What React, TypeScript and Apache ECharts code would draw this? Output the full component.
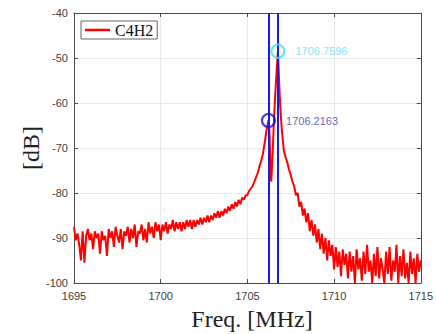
import React, { useEffect, useRef } from "react";
import * as echarts from "echarts";

// Left wing: 1695.0 .. 1705.9, step 0.1 MHz
const leftStart = 1695.0;
const leftDb = [
  -87.5, -90.5, -89.0, -91.5, -95.0, -88.5, -95.5, -89.5, -88.0, -90.5,
  -89.0, -92.5, -88.5, -90.0, -89.0, -93.5, -88.5, -90.5, -89.5, -94.0,
  -88.0, -90.0, -88.5, -92.0, -87.5, -89.5, -91.0, -88.0, -92.5, -88.5,
  -89.5, -87.5, -91.0, -88.0, -90.0, -87.0, -92.0, -88.5, -89.0, -87.0,
  -90.5, -88.0, -91.0, -86.5, -89.0, -87.5, -90.0, -86.5, -88.5, -87.0,
  -90.5, -87.0, -88.5, -86.5, -89.0, -87.0, -88.0, -86.0, -88.5, -86.5,
  -88.0, -86.5, -88.5, -86.5, -88.0, -86.0, -87.5, -86.0, -88.0, -86.0,
  -87.5, -86.0, -87.0, -85.5, -87.0, -85.5, -86.5, -85.0, -86.5, -85.0,
  -86.0, -84.5, -85.5, -84.0, -85.5, -84.0, -85.0, -83.5, -84.5, -83.0,
  -84.0, -82.5, -83.5, -82.0, -83.0, -81.5, -82.5, -81.0, -81.5, -80.5,
  -80.5, -79.5, -79.0, -78.5, -77.5, -76.5, -75.5, -74.0, -72.8, -71.2,
];

// Resonance region (explicit points)
const peakFreq = [
  1705.95, 1706.0, 1706.05, 1706.1, 1706.15, 1706.2163, 1706.26, 1706.3,
  1706.35, 1706.38, 1706.42, 1706.47, 1706.52, 1706.58, 1706.64, 1706.7,
  1706.7596, 1706.8, 1706.85, 1706.9, 1706.95, 1707.0, 1707.05,
];
const peakDb = [
  -70.0, -68.8, -67.5, -66.2, -65.0, -63.9, -65.5, -70.0,
  -76.5, -77.5, -74.0, -70.0, -65.0, -60.0, -56.0, -52.0,
  -48.7, -52.0, -57.0, -61.0, -64.0, -66.5, -68.5,
];

// Right wing: 1707.1 .. 1715.0, step 0.1 MHz
const rightStart = 1707.1;
const rightDb = [
  -70.5, -72.0, -73.2, -74.8, -76.0, -77.5, -78.5, -80.5, -80.0, -83.0,
  -82.0, -85.0, -83.5, -86.5, -84.5, -88.5, -86.0, -89.5, -87.0, -91.0,
  -88.0, -92.5, -89.0, -93.5, -90.0, -95.0, -90.5, -94.0, -91.5, -97.0,
  -92.0, -96.5, -93.0, -98.5, -92.5, -96.0, -93.5, -99.0, -93.0, -97.5,
  -94.0, -100.0, -92.5, -97.0, -94.5, -99.5, -93.0, -98.0, -91.5, -97.5,
  -95.0, -100.0, -93.5, -98.5, -92.0, -99.0, -94.5, -97.0, -100.0, -93.0,
  -98.0, -92.0, -99.5, -95.0, -97.5, -91.5, -100.0, -94.0, -98.5, -92.5,
  -99.0, -95.5, -100.0, -93.0, -98.0, -94.5, -100.0, -93.5, -97.5, -95.0,
];

const markerFreq = [1706.2163, 1706.7596];
const markerDb = [-63.9, -48.5];
const markerLabels = ["1706.2163", "1706.7596"];

const xTicks = { min: 1695, max: 1715, interval: 5 };
const yTicks = { min: -100, max: -40, interval: 10 };

export default function App() {
  const ref = useRef<HTMLDivElement>(null);
  useEffect(() => {
    document.body.style.margin = "0";
    if (!ref.current) return;
    const chart = echarts.init(ref.current, undefined, { renderer: "svg" });

    const curve: [number, number][] = [];
    leftDb.forEach((v, i) => curve.push([+(leftStart + i * 0.1).toFixed(2), v]));
    peakDb.forEach((v, i) => curve.push([peakFreq[i], v]));
    rightDb.forEach((v, i) => curve.push([+(rightStart + i * 0.1).toFixed(2), v]));

    const axisLineColor = "#4a4a4a";
    const labelColor = "#404040";
    const gridColor = "#e8e8e8";

    chart.setOption({
      animation: false,
      backgroundColor: "#ffffff",
      grid: { left: 74, right: 5, top: 13, bottom: 51, containLabel: false },
      legend: {
        data: ["C4H2"],
        left: 81,
        top: 21,
        icon: "rect",
        itemWidth: 25,
        itemHeight: 2.5,
        itemGap: 4,
        padding: [1, 4, 1, 4],
        borderColor: "#666",
        borderWidth: 1,
        backgroundColor: "#fff",
        textStyle: { fontFamily: "Liberation Serif", fontSize: 16, color: "#111" },
      },
      xAxis: [
        {
          type: "value",
          ...xTicks,
          position: "bottom",
          axisLine: { show: true, lineStyle: { color: axisLineColor, width: 1 } },
          axisTick: { show: true, inside: true, length: 4, lineStyle: { color: axisLineColor } },
          axisLabel: {
            color: labelColor,
            fontFamily: "Liberation Sans",
            fontSize: 11,
            margin: 7,
            formatter: (v: number) => String(v),
          },
          splitLine: { show: true, lineStyle: { color: gridColor, width: 1 } },
        },
        {
          type: "value",
          ...xTicks,
          position: "top",
          axisLine: { show: true, lineStyle: { color: axisLineColor, width: 1 } },
          axisTick: { show: true, inside: true, length: 4, lineStyle: { color: axisLineColor } },
          axisLabel: { show: false },
          splitLine: { show: false },
        },
      ],
      yAxis: [
        {
          type: "value",
          ...yTicks,
          position: "left",
          axisLine: { show: true, lineStyle: { color: axisLineColor, width: 1 } },
          axisTick: { show: true, inside: true, length: 4, lineStyle: { color: axisLineColor } },
          axisLabel: { color: labelColor, fontFamily: "Liberation Sans", fontSize: 11, margin: 6 },
          splitLine: { show: true, lineStyle: { color: gridColor, width: 1 } },
        },
        {
          type: "value",
          ...yTicks,
          position: "right",
          axisLine: { show: true, lineStyle: { color: axisLineColor, width: 1 } },
          axisTick: { show: true, inside: true, length: 4, lineStyle: { color: axisLineColor } },
          axisLabel: { show: false },
          splitLine: { show: false },
        },
      ],
      graphic: [
        {
          type: "text",
          x: 31,
          y: 148,
          rotation: Math.PI / 2,
          style: {
            text: "[dB]",
            fontFamily: "Liberation Serif",
            fontSize: 24,
            fill: "#222",
            align: "center",
            verticalAlign: "middle",
          },
        },
        {
          type: "text",
          x: 252,
          y: 319,
          style: {
            text: "Freq. [MHz]",
            fontFamily: "Liberation Serif",
            fontSize: 24,
            fill: "#222",
            align: "center",
            verticalAlign: "middle",
          },
        },
      ],
      series: [
        {
          name: "C4H2",
          type: "line",
          data: curve,
          showSymbol: false,
          symbol: "none",
          lineStyle: { color: "#ff0000", width: 2 },
          itemStyle: { color: "#ff0000" },
          z: 2,
          markLine: {
            silent: true,
            symbol: ["none", "none"],
            label: { show: false },
            lineStyle: { color: "#1a1af0", width: 2, type: "solid" },
            data: markerFreq.map((f) => ({ xAxis: f })),
            z: 3,
          },
        },
        {
          name: "markers",
          type: "scatter",
          symbol: "circle",
          symbolSize: 13,
          z: 4,
          data: [
            {
              value: [markerFreq[0], markerDb[0]],
              itemStyle: { color: "rgba(0,0,0,0)", borderColor: "#1818c8", borderWidth: 2.2 },
              label: {
                show: true,
                formatter: markerLabels[0],
                position: "right",
                distance: 10,
                color: "#3a3ab0",
                fontFamily: "Liberation Sans",
                fontSize: 11,
              },
            },
            {
              value: [markerFreq[1], markerDb[1]],
              itemStyle: { color: "rgba(0,0,0,0)", borderColor: "#40e0f0", borderWidth: 2.2 },
              label: {
                show: true,
                formatter: markerLabels[1],
                position: "right",
                distance: 10,
                color: "#5ee3f3",
                fontFamily: "Liberation Sans",
                fontSize: 11,
              },
            },
          ],
        },
      ],
    });
    return () => chart.dispose();
  }, []);
  return <div ref={ref} style={{ width: 436, height: 334 }} />;
}
